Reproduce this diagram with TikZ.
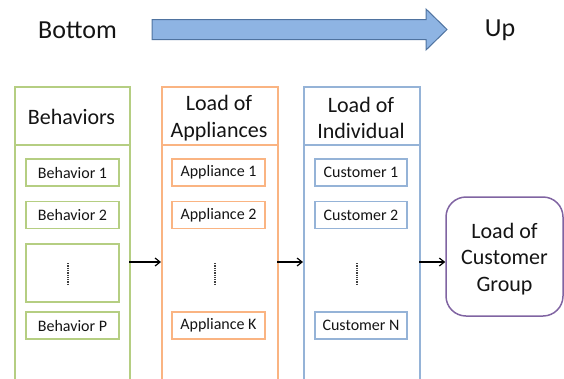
\documentclass[tikz,border=0pt]{standalone}
\usepackage{fontspec}
\setmainfont{Carlito}
\usetikzlibrary{arrows.meta}
\definecolor{grnline}{RGB}{181,206,130}
\definecolor{orgline}{RGB}{250,180,130}
\definecolor{bluline}{RGB}{149,179,215}
\definecolor{purline}{RGB}{128,100,162}
\definecolor{arrfill}{RGB}{142,180,227}
\definecolor{arrline}{RGB}{79,115,160}
\definecolor{txt}{RGB}{20,20,20}
\begin{document}
\begin{tikzpicture}[x=1pt,y=-1pt,
  colbox/.style={draw=#1,line width=1.5pt,anchor=north west,inner sep=0pt},
  itembox/.style={draw=#1,line width=1.5pt,minimum width=93pt,minimum height=27pt,inner sep=0pt,font=\fontsize{16}{18}\selectfont,text=txt},
  headtxt/.style={font=\fontsize{22}{26.5}\selectfont,text=txt,align=center},
  flow/.style={-{Straight Barb[length=5pt,width=8pt]},line width=1.2pt,black},
  vdots/.style={densely dotted,line width=1.3pt,black!75}]
\useasboundingbox (0,0) rectangle (564,378);
\clip (0,0) rectangle (564,378);

% top banner: Bottom -> Up
\node[font=\fontsize{26}{30}\selectfont,text=txt] (bot) at (77.5,30) {Bottom};
\node[font=\fontsize{26}{30}\selectfont,text=txt] (up) at (500,30) {Up};
\draw[draw=arrline,fill=arrfill,line width=1pt]
  (152,19.5) -- (426,19.5) -- (426,9) -- (447,29.5) -- (426,50) -- (426,39.5) -- (152,39.5) -- cycle;

% column frames
\node[colbox=grnline,minimum width=115pt,minimum height=300pt] (c1) at (14,86) {};
\node[colbox=orgline,minimum width=116pt,minimum height=300pt] (c2) at (161,86) {};
\node[colbox=bluline,minimum width=116pt,minimum height=300pt] (c3) at (303,86) {};
\draw[grnline,line width=1.5pt] (14,145) -- (129,145);
\draw[orgline,line width=1.5pt] (161,145) -- (277,145);
\draw[bluline,line width=1.5pt] (303,145) -- (419,145);

% column headings
\node[headtxt] (h1) at (71.5,117) {Behaviors};
\node[headtxt] (h2) at (219,118) {Load of\\Appliances};
\node[headtxt] (h3) at (361,118) {Load of\\Individual};

% behaviors
\node[itembox=grnline] (b1) at (72.5,172.5) {Behavior 1};
\node[itembox=grnline] (b2) at (72.5,215) {Behavior 2};
\node[itembox=grnline,minimum height=58pt] (bd) at (72.5,273) {};
\node[itembox=grnline] (bp) at (72.5,325.5) {Behavior P};
\draw[vdots] (68,263) -- (68,284);

% appliances
\node[itembox=orgline] (a1) at (218.5,172.5) {Appliance 1};
\node[itembox=orgline] (a2) at (218.5,215) {Appliance 2};
\node[itembox=orgline] (ak) at (218.5,325.5) {Appliance K};
\draw[vdots] (215,263) -- (215,284);

% customers
\node[itembox=bluline,minimum width=92pt] (u1) at (361,172.5) {Customer 1};
\node[itembox=bluline,minimum width=92pt] (u2) at (361,215) {Customer 2};
\node[itembox=bluline,minimum width=92pt] (un) at (361,325.5) {Customer N};
\draw[vdots] (357,263) -- (357,284);

% customer group
\node[draw=purline,line width=1.5pt,rounded corners=20pt,minimum width=117pt,
  minimum height=119pt,inner sep=0pt] (grp) at (504.5,256.5) {};
\node[headtxt] (grptxt) at (504.5,259) {Load of\\Customer\\Group};

% flow arrows between stages
\coordinate (c1e) at (129,262);
\coordinate (c2w) at (161,262);
\coordinate (c2e) at (277,262);
\coordinate (c3w) at (303,262);
\coordinate (c3e) at (419,262);
\draw[flow] (c1e) -- (c2w);
\draw[flow] (c2e) -- (c3w);
\draw[flow] (c3e) -- (grp.west |- c3e);
\end{tikzpicture}
\end{document}
